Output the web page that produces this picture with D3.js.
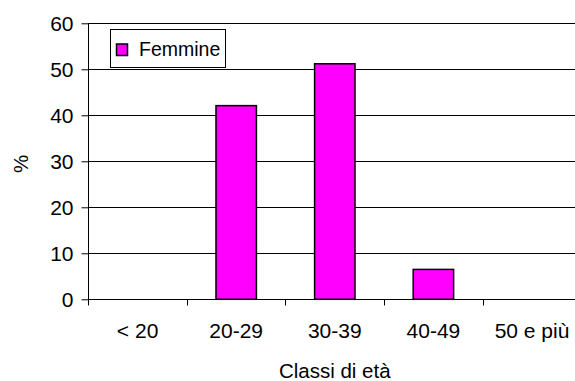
<!DOCTYPE html>
<html>
<head>
<meta charset="utf-8">
<script src="https://cdn.jsdelivr.net/npm/d3@7"></script>
<style>
  html, body { margin: 0; padding: 0; background: #fff; }
  svg { display: block; }
  text { font-family: "Liberation Sans", Arial, sans-serif; fill: #000; }
</style>
</head>
<body>
<svg id="chart" width="575" height="381"></svg>
<script>
const categories = ["< 20", "20-29", "30-39", "40-49", "50 e più"];
const femmine = [0, 42.1, 51.2, 6.5, 0];
const yTicks = [0, 10, 20, 30, 40, 50, 60];
const seriesName = "Femmine";
const xTitle = "Classi di età";
const yTitle = "%";

(function () {
const svg = d3.select("#chart");
const pLeft = 88.3, pRight = 581.3, pTop = 23.3, pBottom = 299.3;

const x = d3.scaleBand().domain(categories).range([pLeft, pRight]).padding(0);
const y = d3.scaleLinear().domain([0, 60]).range([pBottom, pTop]);

// gridlines
svg.append("g").selectAll("line").data(yTicks.filter(d => d > 0)).join("line")
  .attr("x1", pLeft).attr("x2", pRight)
  .attr("y1", d => Math.round(y(d)) + 0.5).attr("y2", d => Math.round(y(d)) + 0.5)
  .attr("stroke", "#000").attr("stroke-width", 1);

// bars
const bw = x.bandwidth() * 0.41;
svg.append("g").selectAll("rect").data(categories.map((c, i) => ({c, v: femmine[i]})).filter(d => d.v > 0)).join("rect")
  .attr("x", d => x(d.c) + (x.bandwidth() - bw) / 2)
  .attr("y", d => y(d.v))
  .attr("width", bw)
  .attr("height", d => y(0) - y(d.v))
  .attr("fill", "#FF00FF")
  .attr("stroke", "#000")
  .attr("stroke-width", 1.5);

// y axis
const yAxis = d3.axisLeft(y).tickValues(yTicks).tickSize(7).tickPadding(8).tickFormat(d3.format("d"));
const gy = svg.append("g").attr("transform", `translate(${Math.round(pLeft) + 0.5},0)`).call(yAxis);
gy.select(".domain").attr("d", `M0,${pTop}V${pBottom}`).attr("stroke", "#000");
gy.selectAll(".tick line").attr("stroke", "#000");
gy.selectAll(".tick text").style("font-size", "21px").style("font-family", "Liberation Sans, Arial, sans-serif");

// x axis
const xTickPos = categories.map(c => x(c)).concat([pRight]);
const gx = svg.append("g").attr("transform", `translate(0,${Math.round(pBottom) + 0.5})`);
gx.append("line").attr("x1", pLeft).attr("x2", pRight).attr("stroke", "#000");
gx.selectAll("line.tk").data(xTickPos).join("line").attr("class", "tk")
  .attr("x1", d => Math.round(d) + 0.5).attr("x2", d => Math.round(d) + 0.5)
  .attr("y1", 0).attr("y2", 6).attr("stroke", "#000");
gx.selectAll("text").data(categories).join("text")
  .attr("x", d => x(d) + x.bandwidth() / 2)
  .attr("y", 38)
  .attr("text-anchor", "middle")
  .style("font-size", "21px")
  .text(d => d);

// axis titles
svg.append("text").attr("x", (pLeft + pRight) / 2).attr("y", 378)
  .attr("text-anchor", "middle").style("font-size", "20.5px").text(xTitle);
svg.append("text").attr("transform", "translate(28,164) rotate(-90)")
  .attr("text-anchor", "middle").style("font-size", "20.5px").text(yTitle);

// legend
const lg = svg.append("g");
lg.append("rect").attr("x", 110.5).attr("y", 29.5).attr("width", 115).attr("height", 38)
  .attr("fill", "#fff").attr("stroke", "#000").attr("stroke-width", 1);
lg.append("rect").attr("x", 116.5).attr("y", 44).attr("width", 11).attr("height", 11.5)
  .attr("fill", "#FF00FF").attr("stroke", "#000").attr("stroke-width", 1.5);
lg.append("text").attr("x", 139).attr("y", 55.5).style("font-size", "19.5px").text(seriesName);
})();
</script>
</body>
</html>
